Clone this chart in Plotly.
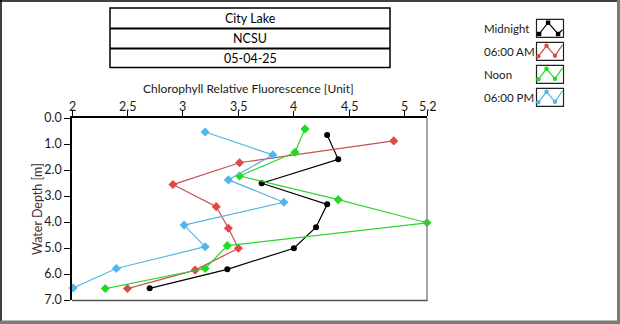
import plotly.graph_objects as go

# ---------------- data ----------------
series_names = ["Midnight", "06:00 AM", "Noon", "06:00 PM"]

depth_midnight = [0.65, 1.59, 2.51, 3.32, 4.20, 5.01, 5.82, 6.55]
fluor_midnight = [4.30, 4.40, 3.71, 4.30, 4.20, 4.00, 3.40, 2.70]

depth_6am = [0.88, 1.72, 2.56, 3.41, 4.24, 5.01, 5.85, 6.56]
fluor_6am = [4.90, 3.51, 2.91, 3.30, 3.41, 3.50, 3.11, 2.50]

depth_noon = [0.42, 1.32, 2.23, 3.14, 4.03, 4.91, 5.79, 6.56]
fluor_noon = [4.10, 4.01, 3.51, 4.40, 5.20, 3.40, 3.20, 2.30]

depth_6pm = [0.54, 1.42, 2.38, 3.24, 4.12, 4.95, 5.79, 6.54]
fluor_6pm = [3.20, 3.81, 3.41, 3.91, 3.01, 3.20, 2.40, 2.01]

x_ticks = [2, 2.5, 3, 3.5, 4, 4.5, 5, 5.2]
x_ticktext = ["2", "2.5", "3", "3.5", "4", "4.5", "5", "5.2"]
y_ticks = [0, 1, 2, 3, 4, 5, 6, 7]
y_ticktext = ["0.0", "1.0", "2.0", "3.0", "4.0", "5.0", "6.0", "7.0"]

header_lines = ["City Lake", "NCSU", "05-04-25"]
x_title = "Chlorophyll Relative Fluorescence [Unit]"
y_title = "Water Depth [m]"

colors = ["#000000", "#e04848", "#1fdc1f", "#4fb6e8"]
line_colors = ["#000000", "#c85050", "#2ed42e", "#5ab4e0"]
symbols = ["circle", "diamond", "diamond", "diamond"]

FONT = "Lato"
W, H = 620, 324
L, R, T, B = 72, 193, 118, 24  # plot area margins
PW, PH = W - L - R, H - T - B


def px(x, y):
    """pixel -> paper coordinates"""
    return (x - L) / PW, (H - B - y) / PH


fig = go.Figure()
all_depth = [depth_midnight, depth_6am, depth_noon, depth_6pm]
all_fluor = [fluor_midnight, fluor_6am, fluor_noon, fluor_6pm]
for name, xs, ys, c, lc, s in zip(series_names, all_fluor, all_depth, colors, line_colors, symbols):
    fig.add_trace(go.Scatter(
        x=xs, y=ys, name=name, mode="lines+markers",
        line=dict(color=lc, width=1.2),
        marker=dict(color=c, size=6 if s == "circle" else 7, symbol=s, line=dict(width=0)),
        cliponaxis=False, showlegend=False,
    ))

shapes = []
annotations = []


def rect_px(x0, y0, x1, y1, **kw):
    a = px(x0, y0); b = px(x1, y1)
    shapes.append(dict(type="rect", xref="paper", yref="paper",
                       x0=a[0], y0=b[1], x1=b[0], y1=a[1], **kw))


def line_px(x0, y0, x1, y1, color, width):
    a = px(x0, y0); b = px(x1, y1)
    shapes.append(dict(type="line", xref="paper", yref="paper",
                       x0=a[0], y0=a[1], x1=b[0], y1=b[1],
                       line=dict(color=color, width=width)))


# outer frame
line_px(0, 1, 620, 1, "#000000", 1.5)
line_px(1, 0, 1, 324, "#000000", 1.5)
rect_px(617, 0, 620, 324, fillcolor="#7a7a7a", line=dict(width=0))
rect_px(0, 320.5, 620, 324, fillcolor="#7a7a7a", line=dict(width=0))

# plot frame right / bottom (gray)
line_px(427, 118, 427, 300.5, "#8a8a8a", 1.5)
line_px(72, 300.5, 427.5, 300.5, "#505050", 1.5)

# header table
tops = [8.5, 28.5, 48.5]
rect_px(110, 8, 390, 67.5, fillcolor="rgba(0,0,0,0)", line=dict(color="#000000", width=1.5))
line_px(110, 28.5, 390, 28.5, "#000000", 2.2)
line_px(110, 48.5, 390, 48.5, "#000000", 2.2)
for txt, t in zip(header_lines, tops):
    xp, yp = px(250, t + 10)
    annotations.append(dict(text=txt, x=xp, y=yp, xref="paper", yref="paper",
                            showarrow=False, xanchor="center", yanchor="middle",
                            font=dict(family=FONT, size=12.5, color="#000000")))

# axis titles
xp, yp = px(248, 89)
annotations.append(dict(text=x_title, x=xp, y=yp, xref="paper", yref="paper",
                        showarrow=False, xanchor="center", yanchor="middle",
                        font=dict(family=FONT, size=12, color="#1a1a1a")))
xp, yp = px(37, 209)
annotations.append(dict(text=y_title, x=xp, y=yp, xref="paper", yref="paper",
                        showarrow=False, xanchor="center", yanchor="middle", textangle=-90,
                        font=dict(family=FONT, size=12.5, color="#3f3030")))

# top x tick labels (placed close to the tick marks, as in the reference)
_, ylab = px(0, 106)
for v, t in zip(x_ticks, x_ticktext):
    annotations.append(dict(text=t, x=v, y=ylab, xref="x", yref="paper",
                            showarrow=False, xanchor="center", yanchor="middle",
                            font=dict(family=FONT, size=12.5, color="#1a1a1a")))

# custom legend
row_tops = [19.3, 42.3, 65.3, 88.3]
for i, (name, c) in enumerate(zip(series_names, colors)):
    top = row_tops[i]
    xp, yp = px(482, top + 9)
    annotations.append(dict(text=name, x=xp, y=yp, xref="paper", yref="paper",
                            showarrow=False, xanchor="left", yanchor="middle",
                            font=dict(family=FONT, size=11.5, color="#1a1a1a")))
    bx = 536.5
    rect_px(bx, top, bx + 27, top + 18, fillcolor="#ffffff",
            line=dict(color="#222222", width=1.2))
    if i == 0:
        pts = [(2.6, 14.7), (11.6, 3.4), (21.6, 14.7), (26, 10.5)]
        mk = pts[:3]
    else:
        pts = [(1.5, 14.5), (10, 3.5), (18.5, 13.5), (26, 2.5)]
        mk = pts[1:3] + [(1.8, 14.0)]
    path = ""
    for j, (rx, ry) in enumerate(pts):
        a = px(bx + rx, top + ry)
        path += ("M" if j == 0 else "L") + f"{a[0]:.5f},{a[1]:.5f} "
    shapes.append(dict(type="path", xref="paper", yref="paper", path=path,
                       line=dict(color=line_colors[i], width=1.2)))
    for rx, ry in mk:
        r = 2.2
        if i == 0:
            rect_px(bx + rx - r, top + ry - r, bx + rx + r, top + ry + r,
                    fillcolor=c, line=dict(width=0))
        else:
            a = px(bx + rx - r, top + ry - r); b = px(bx + rx + r, top + ry + r)
            shapes.append(dict(type="circle", xref="paper", yref="paper",
                               x0=a[0], y0=b[1], x1=b[0], y1=a[1],
                               fillcolor=c, line=dict(width=0)))

fig.update_layout(
    width=W, height=H, margin=dict(l=L, r=R, t=T, b=B, pad=0),
    paper_bgcolor="#ffffff", plot_bgcolor="#ffffff",
    showlegend=False,
    shapes=shapes, annotations=annotations,
    xaxis=dict(range=[2, 5.2], side="top", tickvals=x_ticks, showticklabels=False,
               showgrid=False, zeroline=False, showline=True, linecolor="#000000", linewidth=1.5,
               ticks="outside", ticklen=5, tickcolor="#000000", tickwidth=1),
    yaxis=dict(range=[7, 0], tickvals=y_ticks, ticktext=y_ticktext,
               showgrid=False, zeroline=False, showline=True, linecolor="#000000", linewidth=1.5,
               ticks="outside", ticklen=6, tickcolor="#000000", tickwidth=1,
               tickfont=dict(family=FONT, size=12.5, color="#1a1a1a")),
)

fig.write_html("out.html")
